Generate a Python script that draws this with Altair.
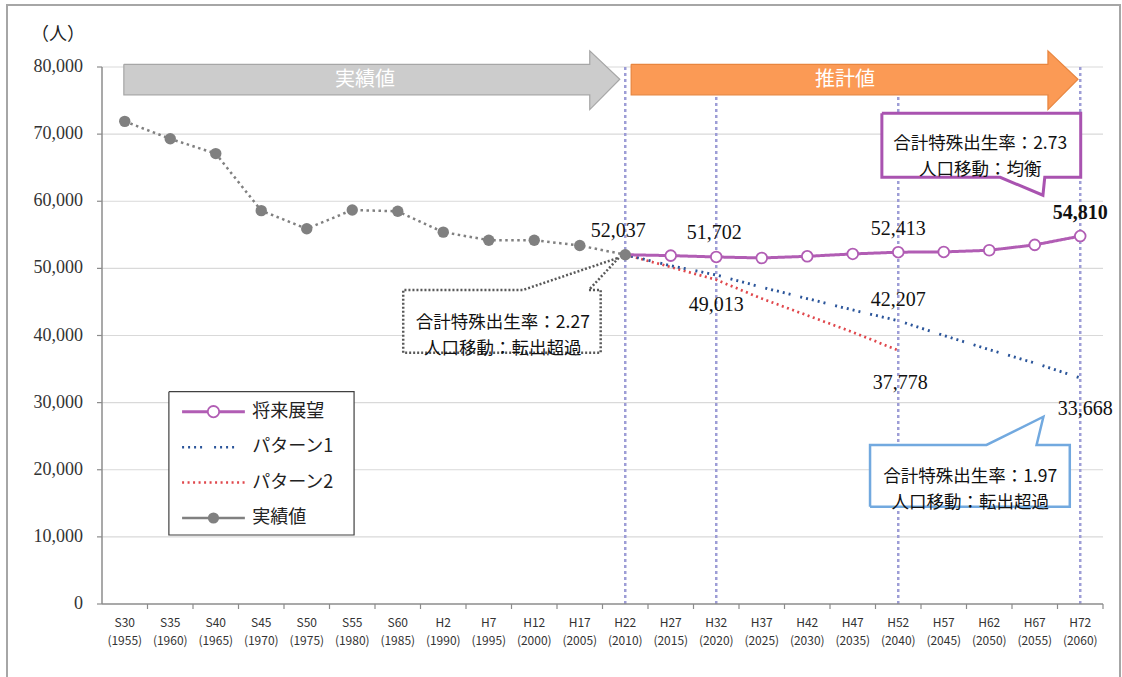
import json
import altair as alt
import pandas as pd

# ---------------- data ----------------
eras = ["S30", "S35", "S40", "S45", "S50", "S55", "S60", "H2", "H7", "H12", "H17",
        "H22", "H27", "H32", "H37", "H42", "H47", "H52", "H57", "H62", "H67", "H72"]
years = ["(1955)", "(1960)", "(1965)", "(1970)", "(1975)", "(1980)", "(1985)",
         "(1990)", "(1995)", "(2000)", "(2005)", "(2010)", "(2015)", "(2020)",
         "(2025)", "(2030)", "(2035)", "(2040)", "(2045)", "(2050)", "(2055)", "(2060)"]
y_ticks = [0, 10000, 20000, 30000, 40000, 50000, 60000, 70000, 80000]

series_names = ["将来展望", "パターン1", "パターン2", "実績値"]
series_colors = ["#b15db4", "#2b559a", "#e0474c", "#808080"]

actual_x = list(range(0, 12))
actual_vals = [71900, 69300, 67100, 58600, 55900, 58700, 58500, 55400, 54200, 54200, 53400, 52037]

proj_x = list(range(11, 22))
future_vals = [52037, 51900, 51702, 51550, 51800, 52150, 52413, 52450, 52700, 53500, 54810]
pattern1_vals = [52037, 50400, 49013, 47200, 45500, 43800, 42207, 40000, 37900, 35900, 33668]

pattern2_x = list(range(11, 18))
pattern2_vals = [52037, 50200, 48300, 45500, 43000, 40500, 37778]

marker_idx = [11, 13, 17, 21]

rows = []
for name, xs, vs in [("パターン2", pattern2_x, pattern2_vals),
                     ("パターン1", proj_x, pattern1_vals),
                     ("将来展望", proj_x, future_vals),
                     ("実績値", actual_x, actual_vals)]:
    for x, v in zip(xs, vs):
        rows.append({"series": name, "x": x, "y": v})
df = pd.DataFrame(rows)
cat_df = pd.DataFrame({"x": list(range(len(eras))), "era": eras, "year": years,
                       "b": [i + 0.5 for i in range(len(eras))]})
ytick_df = pd.DataFrame({"y": y_ticks})

CJK = "Noto Sans CJK JP"
SERIF = "Liberation Serif"
AXIS_GRAY = "#8c8c8c"

XMIN, XMAX = -0.5, 21.5
xscale = alt.Scale(domain=[XMIN, XMAX], nice=False, zero=False)
yscale = alt.Scale(domain=[0, 80000], nice=False, zero=True)
cscale = alt.Scale(domain=series_names, range=series_colors)

X = lambda f="x:Q": alt.X(f, scale=xscale, axis=None)
Y = lambda f="y:Q": alt.Y(f, scale=yscale, axis=None)

# ---------------- axes drawn as marks ----------------
grid = alt.Chart(ytick_df).transform_filter("datum.y > 0").mark_rule(
    stroke="#d9d9d9", strokeWidth=1.2
).encode(x=alt.X(datum=XMIN, scale=xscale, axis=None), x2=alt.datum(XMAX), y=Y())
y_domain = alt.Chart(ytick_df).transform_aggregate(lo="min(y)", hi="max(y)").mark_rule(
    stroke=AXIS_GRAY, strokeWidth=1.5
).encode(x=alt.X(datum=XMIN, scale=xscale, axis=None), y=Y("lo:Q"), y2="hi:Q")
y_tick_marks = alt.Chart(ytick_df).mark_rule(stroke=AXIS_GRAY, strokeWidth=1.2).encode(
    x=alt.X(datum=XMIN, scale=xscale, axis=None), x2=alt.value(-5), y=Y())
y_labels = alt.Chart(ytick_df).mark_text(
    align="right", baseline="middle", dx=-19, font=SERIF, fontSize=18, color="#333333"
).encode(x=alt.X(datum=XMIN, scale=xscale, axis=None), y=Y(),
         text=alt.Text("y:Q", format=",d"))
y_title = alt.Chart(pd.DataFrame({"t": ["（人）"]})).mark_text(
    font=CJK, fontSize=18, color="#222222", align="center", baseline="middle"
).encode(x=alt.value(-44), y=alt.value(-32), text="t:N")

x_domain = alt.Chart(ytick_df).transform_aggregate(lo="min(y)").mark_rule(
    stroke=AXIS_GRAY, strokeWidth=1.5
).encode(x=alt.X(datum=XMIN, scale=xscale, axis=None), x2=alt.datum(XMAX), y=Y("lo:Q"))
x_tick_marks = alt.Chart(cat_df).mark_rule(stroke=AXIS_GRAY, strokeWidth=1.2).encode(
    x=X("b:Q"), y=alt.Y(datum=0, scale=yscale, axis=None), y2=alt.value(542))

era_text = alt.Chart(cat_df).mark_text(
    font=CJK, fontSize=12, color="#333333", baseline="middle", clip=False
).encode(x=X(), y=alt.Y(datum=-2800, scale=yscale, axis=None), text="era:N")
year_text = alt.Chart(cat_df).mark_text(
    font=CJK, fontSize=12, color="#333333", baseline="middle", clip=False
).encode(x=X(), y=alt.Y(datum=-5450, scale=yscale, axis=None), text="year:N")

# vertical guide rules
rules = alt.Chart(pd.DataFrame({"x": marker_idx})).mark_rule(
    stroke="#9d9dd6", strokeWidth=2.5, strokeDash=[3, 3]
).encode(x=X(), y=alt.Y(datum=0, scale=yscale, axis=None), y2=alt.datum(80000))


def polygon(xs, ys, stroke, fill, width, dash=None):
    d = pd.DataFrame({"px": xs, "py": ys, "o": list(range(len(xs)))})
    kw = dict(stroke=stroke, strokeWidth=width, fill=fill, interpolate="linear",
              strokeJoin="miter", clip=False)
    if dash:
        kw["strokeDash"] = dash
    return alt.Chart(d).mark_line(**kw).encode(x=X("px:Q"), y=Y("py:Q"), order="o:Q")


# banner arrows (data-space geometry)
ga = [-0.02, 10.22, 10.22, 10.88, 10.22, 10.22, -0.02, -0.02]
gy = [80400, 80400, 82400, 78170, 73650, 75850, 75850, 80400]
oa = [11.13, 20.29, 20.29, 20.95, 20.29, 20.29, 11.13, 11.13]
arrow_gray = polygon(ga, gy, "#a6a6a6", "#cccccc", 1.2)
arrow_orange = polygon(oa, gy, "#e8853e", "#fb9a55", 1.2)


def text_at(txt, x, y, size, color, font=CJK, weight="normal", line_height=None, align="center"):
    d = pd.DataFrame({"tx": [x], "ty": [y], "t": [txt]})
    kw = dict(font=font, fontSize=size, color=color, fontWeight=weight,
              align=align, baseline="middle")
    if line_height:
        kw["lineBreak"] = "\n"
        kw["lineHeight"] = line_height
    return alt.Chart(d).mark_text(**kw).encode(x=X("tx:Q"), y=Y("ty:Q"), text="t:N")


arrow_txt1 = text_at("実績値", 5.28, 78100, 20, "white")
arrow_txt2 = text_at("推計値", 15.83, 78100, 20, "white")

# callouts
c1 = polygon([16.64, 21.01, 21.01, 20.22, 20.18, 19.24, 16.64, 16.64],
             [73100, 73100, 63570, 63570, 60900, 63570, 63570, 73100],
             "#a953b0", "white", 3)
c1t = text_at("合計特殊出生率：2.73\n人口移動：均衡", 18.80, 68530, 17.5, "#111111",
              line_height=26)
c2 = polygon([6.12, 6.12, 8.75, 10.86, 10.2, 10.46, 10.46, 6.12],
             [37430, 46780, 46780, 51600, 46780, 46780, 37430, 37430],
             "#595959", "white", 2.5, dash=[2, 2])
c2t = text_at("合計特殊出生率：2.27\n人口移動：転出超過", 8.31, 41820, 17.5, "#111111",
              line_height=26)
c3 = polygon([16.38, 16.38, 18.94, 20.19, 20.04, 20.77, 20.77, 16.38],
             [14500, 23690, 23690, 27900, 23690, 23690, 14500, 14500],
             "#72a9df", "white", 2.5)
c3t = text_at("合計特殊出生率：1.97\n人口移動：転出超過", 18.58, 18970, 17.5, "#111111",
              line_height=26)

# data lines
lines = alt.Chart(df).mark_line(strokeCap="butt").encode(
    x=X(), y=Y(),
    color=alt.Color("series:N", scale=cscale, legend=None),
    strokeDash=alt.StrokeDash("series:N", scale=alt.Scale(
        domain=series_names,
        range=[[1, 0], [2, 4, 2, 4, 2, 4, 2, 4, 2, 10], [2, 3.5], [2.5, 3.5]]), legend=None),
    strokeWidth=alt.StrokeWidth("series:N", scale=alt.Scale(
        domain=series_names, range=[3, 2.5, 2.5, 2.5]), legend=None),
)

future_pts = alt.Chart(df).transform_filter(
    "datum.series === '将来展望' && datum.x > 11"
).mark_point(shape="circle", filled=True, fill="white", stroke="#b15db4",
             strokeWidth=1.8, size=115, opacity=1).encode(x=X(), y=Y())

actual_pts = alt.Chart(df).transform_filter("datum.series === '実績値'").mark_circle(
    size=130, color="#808080", opacity=1).encode(x=X(), y=Y())


def value_label(series, idx, dx, dy, bold=False):
    return alt.Chart(df).transform_filter(
        f"datum.series === '{series}' && datum.x === {idx}"
    ).mark_text(dx=dx, dy=dy, font=SERIF, fontSize=20, color="#111111",
                fontWeight="bold" if bold else "normal", baseline="middle").encode(
        x=X(), y=Y(), text=alt.Text("y:Q", format=",d"))


labels = [
    value_label("実績値", 11, -7, -24),
    value_label("将来展望", 13, -2, -24),
    value_label("将来展望", 17, 0, -23),
    value_label("将来展望", 21, 0, -23, bold=True),
    value_label("パターン1", 13, 0, 30),
    value_label("パターン1", 17, 0, -21),
    value_label("パターン2", 17, 2, 33),
    value_label("パターン1", 21, 5, 31),
]

# ---------------- legend (drawn as marks in data space) ----------------
leg_box = polygon([0.97, 5.04, 5.04, 0.97, 0.97], [31630, 31630, 10280, 10280, 31630],
                  "#404040", "white", 1.2)
leg_df = pd.DataFrame({"series": series_names})
leg_base = alt.Chart(leg_df).transform_calculate(
    row=f"indexof({json.dumps(series_names, ensure_ascii=False)}, datum.series)"
).transform_calculate(ly="28650 - datum.row * 5280")
leg_styles = {
    "将来展望": dict(strokeWidth=3),
    "パターン1": dict(strokeWidth=2.5, strokeDash=[2, 4, 2, 4, 2, 4, 2, 12]),
    "パターン2": dict(strokeWidth=2.5, strokeDash=[2, 3.5]),
    "実績値": dict(strokeWidth=2.5),
}
leg_layers = [leg_box]
for name in series_names:
    leg_layers.append(
        leg_base.transform_filter(f"datum.series === '{name}'").mark_rule(
            strokeCap="butt", **leg_styles[name]).encode(
            x=alt.X(datum=1.26, scale=xscale, axis=None), x2=alt.datum(2.64),
            y=Y("ly:Q"), color=alt.Color("series:N", scale=cscale, legend=None)))
leg_layers.append(
    leg_base.transform_filter("datum.series === '将来展望'").mark_point(
        shape="circle", filled=True, fill="white", stroke="#b15db4", strokeWidth=1.8,
        size=130, opacity=1).encode(x=alt.X(datum=1.95, scale=xscale, axis=None), y=Y("ly:Q")))
leg_layers.append(
    leg_base.transform_filter("datum.series === '実績値'").mark_circle(
        size=125, color="#808080", opacity=1).encode(
        x=alt.X(datum=1.95, scale=xscale, axis=None), y=Y("ly:Q")))
leg_layers.append(
    leg_base.mark_text(align="left", baseline="middle", font=CJK, fontSize=18,
                       color="#222222").encode(
        x=alt.X(datum=2.80, scale=xscale, axis=None), y=Y("ly:Q"), text="series:N"))

frame = alt.Chart(pd.DataFrame({"a": [0]})).mark_rect(
    fillOpacity=0, stroke="#a6a6a6", strokeWidth=2
).encode(x=alt.value(-95), x2=alt.value(1018), y=alt.value(-62), y2=alt.value(640))

chart = alt.layer(
    grid, rules, x_domain, x_tick_marks, y_domain, y_tick_marks, y_labels, y_title,
    era_text, year_text, arrow_gray, arrow_orange, arrow_txt1, arrow_txt2,
    lines, c2, c2t, future_pts, actual_pts, c1, c1t, c3, c3t, *labels, *leg_layers, frame
).properties(
    width=1001, height=537,
    padding={"left": 102, "top": 67, "right": 19, "bottom": 73},
    autosize=alt.AutoSizeParams(type="none"),
    background="white",
).configure_view(stroke=None)

chart.save("out.html", embed_options={"renderer": "svg", "actions": False})
